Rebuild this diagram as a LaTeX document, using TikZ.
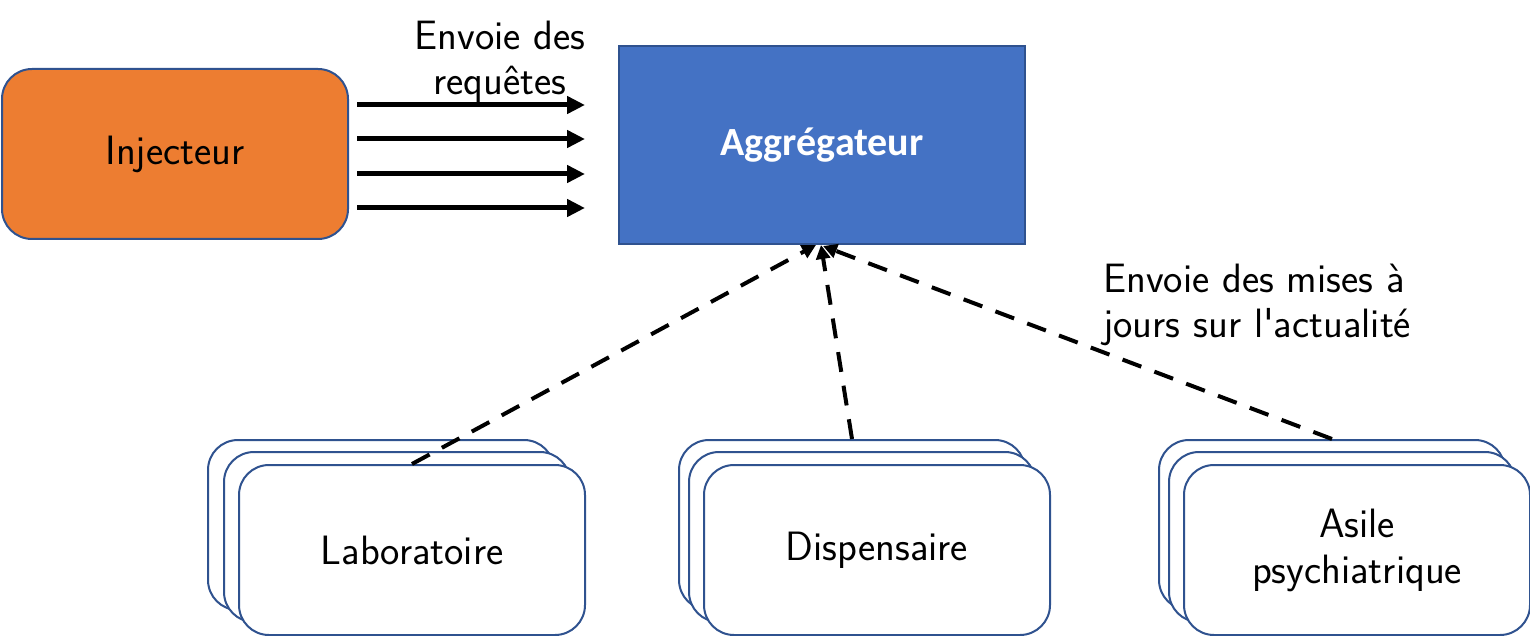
\documentclass[tikz,border=0pt]{standalone}
\usepackage{fontspec}
\newfontfamily\carlito{Carlito}
\usetikzlibrary{arrows.meta,calc}
\definecolor{orangec}{HTML}{ED7D31}
\definecolor{bluec}{HTML}{4472C4}
\definecolor{bordc}{HTML}{2F528F}
\begin{document}
\begin{tikzpicture}[x=0.5pt,y=-0.5pt,
  txt/.style={font=\sffamily\fontsize{20.5}{22.5}\selectfont, inner sep=0pt},
  rbox/.style={draw=bordc, line width=1pt, rounded corners=15pt, minimum width=173pt, minimum height=85pt, anchor=north west, fill=white, inner sep=0pt, align=center, font=\sffamily\fontsize{20.5}{23}\selectfont},
  req/.style={line width=2.5pt, -{Triangle[length=9pt,width=8.5pt]}},
  upd/.style={line width=2pt, dash pattern=on 10pt off 7pt, -{Triangle[length=7pt,width=7pt]}}
]
\useasboundingbox (0,0) rectangle (1530,636);
% Injecteur
\node[rbox, fill=orangec] (inj) at (1,68) {Injecteur};
% Aggregateur
\node[draw=bordc, line width=1pt, fill=bluec, minimum width=203pt, minimum height=99pt, anchor=north west, inner sep=0pt, text=white, font=\carlito\bfseries\fontsize{20}{24}\selectfont] (agg) at (618,45) {Aggrégateur};
% request arrows
\foreach \i/\y in {1/105,2/139,3/174,4/208}{
  \coordinate (s\i) at (357,\y);
  \coordinate (e\i) at (585,\y);
  \draw[req] (s\i) -- (e\i);
}
\node[txt, align=center] (reqlbl) at (500,62) {Envoie des\\requêtes};
% Laboratoire stack
\node[rbox] (lab3) at (207,439) {};
\node[rbox] (lab2) at (223,451) {};
\node[rbox] (lab1) at (238,464) {Laboratoire};
% Dispensaire stack
\node[rbox] (dis3) at (678,439) {};
\node[rbox] (dis2) at (688,451) {};
\node[rbox] (dis1) at (703,464) {Dispensaire};
% Asile stack
\node[rbox] (asi3) at (1158,439) {};
\node[rbox] (asi2) at (1168,451) {};
\node[rbox] (asi1) at (1183,464) {Asile\\psychiatrique};
% update arrows
\draw[upd] (lab1.north) -- ($(agg.south)+(-6,0)$);
\draw[upd] (dis3.north) -- ($(agg.south)+(-1,0)$);
\draw[upd] (asi3.north) -- ($(agg.south)+(1,1)$);
\node[txt, align=left, anchor=west] (updlbl) at (1103,305) {Envoie des mises à\\jours sur l\textquotesingle actualité};
\end{tikzpicture}
\end{document}
